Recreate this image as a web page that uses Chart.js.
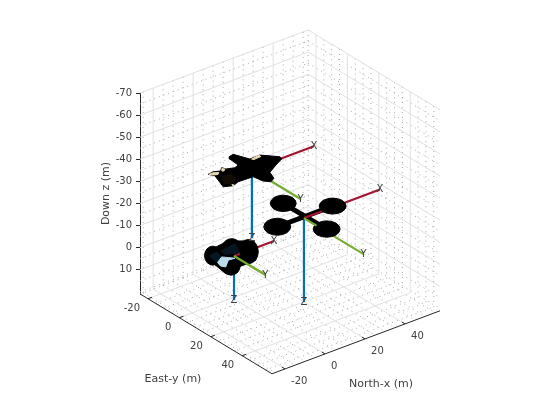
<!DOCTYPE html>
<html>
<head>
<meta charset="utf-8">
<style>
    html, body { margin: 0; padding: 0; background: #fff; }
    canvas { display: block; }
</style>
<script src="https://cdn.jsdelivr.net/npm/chart.js@4"></script>
</head>
<body>
<canvas id="canva" width="560" height="420"></canvas>
<script>
// axis limits and ticks
const northLimits = [-26.5, 57.5];
const eastLimits = [-25, 59];
const downLimits = [-70, 21];
const northTicks = [-20, 0, 20, 40];
const eastTicks = [-20, 0, 20, 40];
const downTicks = [-70, -60, -50, -40, -30, -20, -10, 0, 10];
const northMinor = [-25, -15, -10, -5, 5, 10, 15, 25, 30, 35, 45, 50, 55];
const eastMinor = [-25, -15, -10, -5, 5, 10, 15, 25, 30, 35, 45, 50, 55];
const downMinor = [-65, -55, -45, -35, -25, -15, -5, 5, 15, 20];

// vehicle positions and body frame axis lengths (m)
const vehicleNorth = [7.7, 28.2, -1.55];
const vehicleEast = [2.6, 9.65, 3];
const vehicleDown = [-35.6, -9.7, 0.2];
const axisLength = [31, 38, 20];
const axisOnTopX = [0, 9, 3];
const axisOnTopY = [0, 8, 20];

// plane outline, offsets across / down the view from the vehicle origin
const planeH = [-22.7, -18.7, -2, 8, 28, 29.7, 24, 18, 22, 19, 11.3, 1.3, -13.7, -18.7, -28.7, -33.7, -37, -43.7, -38.7, -31.3, -30.3, -26, -17, -13.7, -22];
const planeW = [-12.8, -15.2, -10.5, -14.5, -12.8, -10.5, -4.5, 2.8, 8.8, 12.2, 11.5, 7.2, 12.2, 16.2, 17.2, 10.5, 6.2, 4.8, 2.2, 1.5, -1.8, -0.5, -1.8, -4.5, -10.5];
const planeBrownH = [-31, -20, -16, -20, -28];
const planeBrownW = [7, 5, 9, 14, 14];
const planeLightH = [[-43, -38.7, -33, -34, -38.7], [-30, -27, -28, -30], [-0.3, 7, 9, 2], [-20, -17.5, -18.7]];
const planeLightW = [[4.8, 3.2, 3, 5, 5.4], [-1, -0.5, 1.5, 1.5], [-10.5, -14.3, -13, -10], [15, 15.5, 16.8]];

// rotor outline, scaled per rotor
const rotorH = [1, 0.92, 0.71, 0.38, 0, -0.38, -0.71, -0.92, -1, -0.92, -0.71, -0.38, 0, 0.38, 0.71, 0.92];
const rotorW = [0, 0.38, 0.71, 0.92, 1, 0.92, 0.71, 0.38, 0, -0.38, -0.71, -0.92, -1, -0.92, -0.71, -0.38];

// quad rotors: centre h, centre w, radius h, radius w
const quadRotors = [[-20.7, -14.7, 13, 8.2], [28.7, -12, 13.5, 8], [-26.7, 8.7, 13.5, 8.5], [22.7, 11, 13.5, 8.2]];
// small quad
const smallRotors = [[-21.3, -0.3, 8.2, 9.5], [-2.3, -9.3, 9, 8], [14.3, -4.3, 10, 12.2], [-3, 10, 9.2, 9.2]];
const smallHullH = [-24, -6, 20, 22, 10, 2, -8, -20];
const smallHullW = [-6, -15, -15, 4, 9, 12, 18, 8];
const smallNavyH = [-13, 1, 6, -9];
const smallNavyW = [-5, -12, -3, -1.5];
const smallNavy2H = [-25, -17, -13, -18];
const smallNavy2W = [0, -4, 1, 6];
const smallPaleH = [-16.5, -12.3, 1, -5.7, -8.3, -13.5];
const smallPaleW = [6.5, 1, 2.3, 4.2, 11, 10];

const zPerPixel = 1 / 2.209;

function project(x, y, z) {
    return {
        x: 232.4 + 2 * x + 1.57 * y,
        y: z + 1.75 + (-0.75 * x + 0.95 * y) * zPerPixel,
    };
}

function origin(i) {
    return project(vehicleNorth[i], vehicleEast[i], vehicleDown[i]);
}

function outline(i, hs, ws) {
    const o = origin(i);
    const pts = hs.map((h, k) => ({ x: o.x + h, y: o.y + ws[k] * zPerPixel }));
    pts.push(pts[0]);
    return pts;
}

function rotor(i, r) {
    return outline(
        i,
        rotorH.map((h) => r[0] + h * r[2]),
        rotorW.map((w) => r[1] + w * r[3])
    );
}

const gap = { x: NaN, y: NaN };
const datasets = [];

function addLine(data, color, width, dash) {
    datasets.push({
        data,
        showLine: true,
        borderColor: color,
        borderWidth: width,
        // a dash here also keeps chart.js off its fast line path, which snaps x to whole pixels
        borderDash: dash || [2000, 0],
        pointRadius: 0,
        fill: false,
        clip: false,
        borderCapStyle: 'butt',
    });
}

function addShape(data, color) {
    datasets.push({
        data,
        showLine: true,
        borderColor: color,
        backgroundColor: color,
        borderWidth: 1,
        pointRadius: 0,
        fill: 'shape',
        clip: false,
        borderJoinStyle: 'round',
    });
}

function gridLines(northList, eastList, downList) {
    const [x0, x1] = northLimits;
    const [y0, y1] = eastLimits;
    const [z0, z1] = downLimits;
    const pts = [];
    const seg = (a, b) => pts.push(a, b, gap);
    northList.forEach((x) => {
        seg(project(x, y0, z1), project(x, y1, z1));
        seg(project(x, y0, z0), project(x, y0, z1));
    });
    eastList.forEach((y) => {
        seg(project(x0, y, z1), project(x1, y, z1));
        seg(project(x1, y, z0), project(x1, y, z1));
    });
    downList.forEach((z) => {
        seg(project(x0, y0, z), project(x1, y0, z));
        seg(project(x1, y0, z), project(x1, y1, z));
    });
    return pts;
}

addLine(gridLines(northMinor, eastMinor, downMinor), '#a8a8a8', 1, [1, 4]);
addLine(gridLines(northTicks, eastTicks, downTicks), '#e0e0e0', 1);

// floor edges and ticks
const [xa, xb] = northLimits;
const [ya, yb] = eastLimits;
const zb = downLimits[1];
addLine([project(xa, ya, zb), project(xa, yb, zb), project(xb, yb, zb)], '#262626', 1);
const tickPts = [];
northTicks.forEach((x) => tickPts.push(project(x, yb, zb), project(x, yb - 2, zb), gap));
eastTicks.forEach((y) => tickPts.push(project(xa, y, zb), project(xa + 2, y, zb), gap));
addLine(tickPts, '#262626', 1);

// body frame axes, under the bodies
function axisEnd(i, dx, dy, dz) {
    return project(vehicleNorth[i] + dx, vehicleEast[i] + dy, vehicleDown[i] + dz);
}
vehicleNorth.forEach((_, i) => {
    const L = axisLength[i];
    addLine([origin(i), axisEnd(i, 0, 0, L)], '#0072BD', 2.2);
    addLine([origin(i), axisEnd(i, L, 0, 0)], '#A2142F', 2.2);
    addLine([origin(i), axisEnd(i, 0, L, 0)], '#77AC30', 2.2);
});

// plane
addShape(outline(0, planeH, planeW), '#000000');
addShape(outline(0, planeBrownH, planeBrownW), '#120c04');
planeLightH.forEach((hs, k) => addShape(outline(0, hs, planeLightW[k]), '#e6d9b4'));

// big quad
quadRotors.forEach((r) => addShape(rotor(1, r), '#000000'));
const q = quadRotors;
addLine(outline(1, [q[0][0], q[3][0]], [q[0][1], q[3][1]]), '#000000', 5);
addLine(outline(1, [q[2][0], q[1][0]], [q[2][1], q[1][1]]), '#000000', 5);

// small quad
addShape(outline(2, smallHullH, smallHullW), '#000000');
smallRotors.forEach((r) => addShape(rotor(2, r), '#000000'));
addShape(outline(2, smallNavyH, smallNavyW), '#071722');
addShape(outline(2, smallNavy2H, smallNavy2W), '#071722');
addShape(outline(2, smallPaleH, smallPaleW), '#bcdcee');

// axis pieces that stay in front of the bodies
[1, 2].forEach((i) => {
    addLine([origin(i), axisEnd(i, axisOnTopX[i], 0, 0)], '#A2142F', 2.2);
    addLine([origin(i), axisEnd(i, 0, axisOnTopY[i], 0)], '#77AC30', 2.2);
});

// first pushed is drawn first
datasets.forEach((d, i) => { d.order = 1000 - i; });

const textPlugin = {
    id: 'textPlugin',
    afterDatasetsDraw(chart) {
        const { ctx, scales } = chart;
        const px = (p) => ({ x: scales.x.getPixelForValue(p.x), y: scales.y.getPixelForValue(p.y) });
        ctx.save();
        ctx.fillStyle = '#404040';
        ctx.textBaseline = 'middle';
        ctx.font = '10px "DejaVu Sans"';

        ctx.textAlign = 'left';
        northTicks.forEach((x) => {
            const p = px(project(x, yb, zb));
            ctx.fillText(String(x), p.x + 6, p.y + 12);
        });
        ctx.textAlign = 'right';
        eastTicks.forEach((y) => {
            const p = px(project(xa, y, zb));
            ctx.fillText(String(y), p.x - 8, p.y + 10);
        });

        ctx.textAlign = 'center';
        vehicleNorth.forEach((_, i) => {
            const L = axisLength[i];
            const ex = px(axisEnd(i, L, 0, 0));
            const ey = px(axisEnd(i, 0, L, 0));
            const ez = px(axisEnd(i, 0, 0, L));
            ctx.fillText('X', ex.x, ex.y);
            ctx.fillText('Y', ey.x, ey.y);
            ctx.fillText('Z', ez.x, ez.y);
        });

        ctx.font = '11px "DejaVu Sans"';
        ctx.fillText('East-y (m)', 173, 379);
        ctx.fillText('North-x (m)', 381, 384);
        ctx.restore();
    },
};

new Chart(document.querySelector('#canva').getContext('2d'), {
    type: 'scatter',
    data: { datasets },
    options: {
        responsive: false,
        animation: false,
        devicePixelRatio: 1,
        spanGaps: false,
        layout: { padding: { left: 100, right: 121, top: 93, bottom: 126 } },
        plugins: { legend: { display: false }, tooltip: { enabled: false } },
        scales: {
            x: { type: 'linear', display: false, min: 140, max: 439 },
            y: {
                type: 'linear',
                reverse: true,
                min: downLimits[0],
                max: downLimits[1],
                afterFit: (scale) => { scale.width = 40; },
                afterBuildTicks: (scale) => { scale.ticks = downTicks.map((value) => ({ value })); },
                border: { color: '#262626', width: 1 },
                grid: { drawOnChartArea: false, tickLength: 4, tickColor: '#262626' },
                ticks: {
                    color: '#404040',
                    padding: 4,
                    font: { family: 'DejaVu Sans', size: 10 },
                },
                title: {
                    display: true,
                    text: 'Down z (m)',
                    color: '#404040',
                    padding: 0,
                    font: { family: 'DejaVu Sans', size: 11 },
                },
            },
        },
    },
    plugins: [textPlugin],
});
</script>
</body>
</html>
